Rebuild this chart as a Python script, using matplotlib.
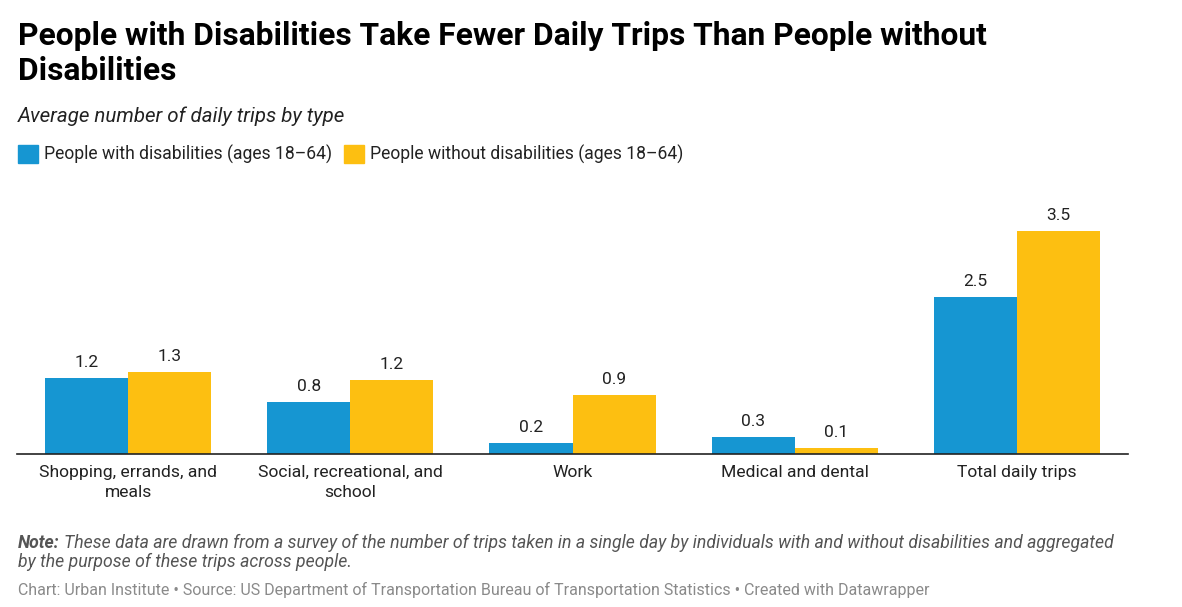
import matplotlib
matplotlib.use("Agg")
import matplotlib.pyplot as plt
import numpy as np

categories = ["Shopping, errands, and\nmeals", "Social, recreational, and\nschool",
              "Work", "Medical and dental", "Total daily trips"]
with_dis = [1.19, 0.82, 0.17, 0.27, 2.46]
without_dis = [1.29, 1.16, 0.93, 0.09, 3.5]
series_names = ["People with disabilities (ages 18\u201364)",
                "People without disabilities (ages 18\u201364)"]

BLUE = "#1696d2"
YELLOW = "#fdbf11"
W, H = 1182, 607

plt.rcParams["font.family"] = ["Roboto", "DejaVu Sans"]

fig = plt.figure(figsize=(W / 100, H / 100), dpi=100)


def fx(x):
    return x / W


def fy(y):
    return 1 - y / H


# axes box in pixels (left, top, right, bottom)
ax = fig.add_axes([fx(17), fy(454), fx(1128) - fx(17), (454 - 199) / H])
x = np.arange(len(categories))
bw = 0.374
b1 = ax.bar(x - bw / 2, with_dis, bw, color=BLUE, label=series_names[0])
b2 = ax.bar(x + bw / 2, without_dis, bw, color=YELLOW, label=series_names[1])
ax.set_xlim(-0.5, len(categories) - 0.5)
ax.set_ylim(0, 4.0)
for bars, vals in ((b1, with_dis), (b2, without_dis)):
    for r, v in zip(bars, vals):
        ax.annotate(f"{v:.1f}", (r.get_x() + r.get_width() / 2, v),
                    xytext=(0, 8), textcoords="offset points",
                    ha="center", va="baseline", fontsize=12.5, color="#222222")
for s in ("top", "right", "left"):
    ax.spines[s].set_visible(False)
ax.spines["bottom"].set_color("#222222")
ax.spines["bottom"].set_linewidth(1.2)
ax.set_yticks([])
ax.set_xticks(x)
ax.set_xticklabels(categories, fontsize=12.6, color="#222222", linespacing=1.4)
ax.tick_params(axis="x", length=0, pad=8)

# title block
fig.text(fx(18), fy(45), "People with Disabilities Take Fewer Daily Trips Than People without",
         fontsize=22.9, fontweight="bold", va="baseline", color="#000000")
fig.text(fx(18), fy(80), "Disabilities",
         fontsize=22.9, fontweight="bold", va="baseline", color="#000000")
fig.text(fx(18), fy(122), "Average number of daily trips by type",
         fontsize=14.8, style="italic", va="baseline", color="#222222")

# legend
lx = 18
for name, col in zip(series_names, [BLUE, YELLOW]):
    fig.patches.append(plt.Rectangle((fx(lx), fy(163)), 20 / W, 18 / H,
                                     transform=fig.transFigure, color=col))
    t = fig.text(fx(lx + 26), fy(160), name, fontsize=12.65, va="baseline", color="#222222")
    fig.canvas.draw()
    bb = t.get_window_extent()
    lx = bb.x1 + 12

# note + footer
note_fs = 12.72
n1 = fig.text(fx(18), fy(548), "Note:", fontsize=note_fs, style="italic", fontweight="bold",
              va="baseline", color="#555555")
fig.canvas.draw()
nx = n1.get_window_extent().x1 + 4
fig.text(fx(nx), fy(548),
         "These data are drawn from a survey of the number of trips taken in a single day by "
         "individuals with and without disabilities and aggregated",
         fontsize=note_fs, style="italic", va="baseline", color="#555555")
fig.text(fx(18), fy(567), "by the purpose of these trips across people.",
         fontsize=note_fs, style="italic", va="baseline", color="#555555")
fig.text(fx(18), fy(595),
         "Chart: Urban Institute \u2022 Source: US Department of Transportation Bureau of "
         "Transportation Statistics \u2022 Created with Datawrapper",
         fontsize=11.5, va="baseline", color="#8a8a8a")

fig.savefig("out.png", dpi=100)
